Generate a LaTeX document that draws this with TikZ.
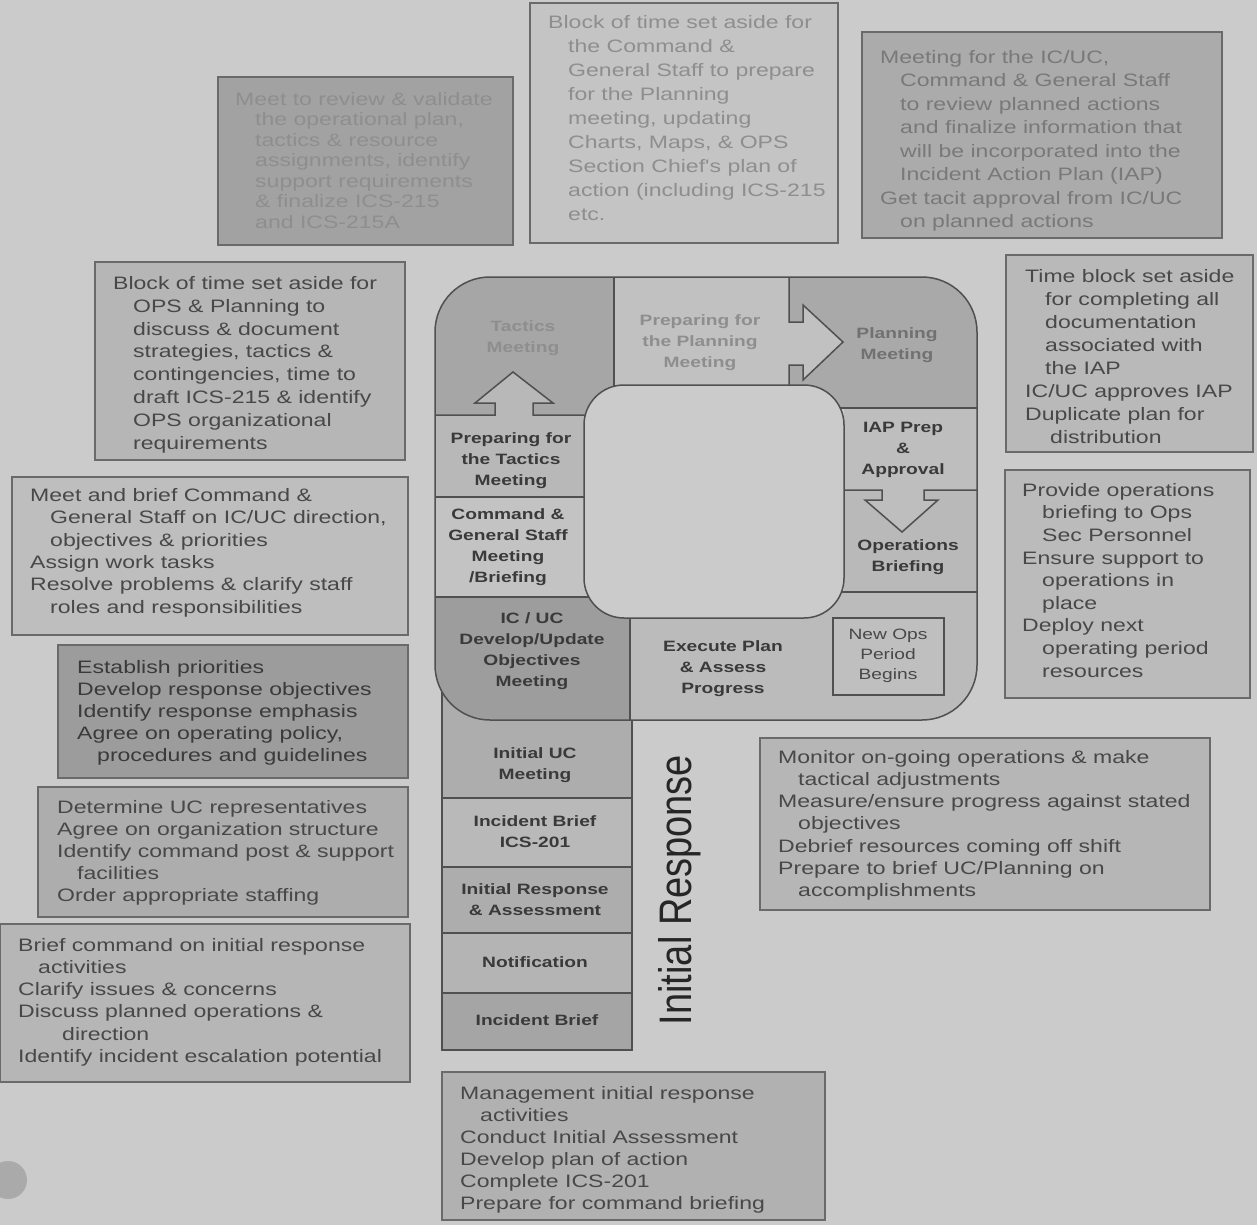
\documentclass[tikz,border=0pt]{standalone}
\usepackage{fontspec}
\setmainfont{Liberation Sans}
\newfontfamily\widesans[FakeStretch=1.28]{Liberation Sans}
\definecolor{bg}{HTML}{CBCBCB}
\definecolor{boxline}{HTML}{6A6A6A}
\definecolor{pline}{HTML}{505050}
\definecolor{txt}{HTML}{484848}
\definecolor{celltxt}{HTML}{3A3A3A}
\definecolor{fadedtxt}{HTML}{8E8E8E}
\definecolor{fA}{HTML}{A2A2A2}
\definecolor{fB}{HTML}{C4C4C4}
\definecolor{fC}{HTML}{ABABAB}
\definecolor{fD}{HTML}{B9B9B9}
\definecolor{fE}{HTML}{BBBBBB}
\definecolor{fF}{HTML}{B6B6B6}
\definecolor{fG}{HTML}{B6B6B6}
\definecolor{fH}{HTML}{BEBEBE}
\definecolor{fI}{HTML}{9C9C9C}
\definecolor{fJ}{HTML}{ADADAD}
\definecolor{fK}{HTML}{B6B6B6}
\definecolor{fL}{HTML}{B1B1B1}
\definecolor{cTac}{HTML}{A6A6A6}
\definecolor{cPrepPlan}{HTML}{C1C1C1}
\definecolor{cPlan}{HTML}{A9A9A9}
\definecolor{cIAP}{HTML}{BEBEBE}
\definecolor{cOps}{HTML}{B9B9B9}
\definecolor{cExec}{HTML}{BBBBBB}
\definecolor{cPrepTac}{HTML}{B8B8B8}
\definecolor{cCGS}{HTML}{C3C3C3}
\definecolor{cICUC}{HTML}{9D9D9D}
\definecolor{cInner}{HTML}{CBCBCB}
\definecolor{cNew}{HTML}{BFBFBF}
\definecolor{kIUC}{HTML}{ADADAD}
\definecolor{kICS}{HTML}{B9B9B9}
\definecolor{kIRA}{HTML}{ADADAD}
\definecolor{kNot}{HTML}{B4B4B4}
\definecolor{kIB}{HTML}{A5A5A5}
\begin{document}
\begin{tikzpicture}[x=1pt,y=-1pt,
  descbox/.style={draw=boxline, line width=1.3pt},
  desctext/.style={anchor=north west, inner sep=0pt, align=left, text=txt,
    font=\widesans\fontsize{18}{22.5}\selectfont},
  celltext/.style={align=center, inner sep=0pt, text=celltxt,
    font=\widesans\bfseries\fontsize{15}{21}\selectfont},
  cellline/.style={draw=pline, line width=1.5pt},
]
\def\ind{\hspace*{20pt}}
\useasboundingbox (0,0) rectangle (1257,1225);
\fill[bg] (0,0) rectangle (1257,1225);
\fill[fA!80!bg] (8,1180) circle (19pt);

% ---------- description boxes ----------
\draw[descbox, fill=fA] (218,77) rectangle (513,245);
\node[desctext, text=fadedtxt, font=\widesans\fontsize{18}{20.5}\selectfont] (dA) at (235,92)
 {Meet to review \& validate\\\ind the operational plan,\\\ind tactics \& resource\\\ind assignments, identify\\\ind support requirements\\\ind \& finalize ICS-215\\\ind and ICS-215A};

\draw[descbox, fill=fB] (530,3) rectangle (838,243);
\node[desctext, text=fadedtxt, font=\widesans\fontsize{18}{24}\selectfont] (dB) at (548,15)
 {Block of time set aside for\\\ind the Command \&\\\ind General Staff to prepare\\\ind for the Planning\\\ind meeting, updating\\\ind Charts, Maps, \& OPS\\\ind Section Chief's plan of\\\ind action (including ICS-215\\\ind etc.};

\draw[descbox, fill=fC] (862,32) rectangle (1222,238);
\node[desctext, text=fadedtxt!85!black, font=\widesans\fontsize{18}{23.5}\selectfont] (dC) at (880,50)
 {Meeting for the IC/UC,\\\ind Command \& General Staff\\\ind to review planned actions\\\ind and finalize information that\\\ind will be incorporated into the\\\ind Incident Action Plan (IAP)\\Get tacit approval from IC/UC\\\ind on planned actions};

\draw[descbox, fill=fD] (1006,255) rectangle (1253,452);
\node[desctext, font=\widesans\fontsize{18}{23}\selectfont] (dD) at (1025,269)
 {Time block set aside\\\ind for completing all\\\ind documentation\\\ind associated with\\\ind the IAP\\IC/UC approves IAP\\Duplicate plan for\\\hspace*{25pt}distribution};

\draw[descbox, fill=fE] (1005,470) rectangle (1250,698);
\node[desctext, font=\widesans\fontsize{18}{22.6}\selectfont] (dE) at (1022,483)
 {Provide operations\\\ind briefing to Ops\\\ind Sec Personnel\\Ensure support to\\\ind operations in\\\ind place\\Deploy next\\\ind operating period\\\ind resources};

\draw[descbox, fill=fF] (760,738) rectangle (1210,910);
\node[desctext, font=\widesans\fontsize{18}{22.2}\selectfont] (dF) at (778,750)
 {Monitor on-going operations \& make\\\ind tactical adjustments\\Measure/ensure progress against stated\\\ind objectives\\Debrief resources coming off shift\\Prepare to brief UC/Planning on\\\ind accomplishments};

\draw[descbox, fill=fG] (95,262) rectangle (405,460);
\node[desctext, font=\widesans\fontsize{18}{22.9}\selectfont] (dG) at (113,276)
 {Block of time set aside for\\\ind OPS \& Planning to\\\ind discuss \& document\\\ind strategies, tactics \&\\\ind contingencies, time to\\\ind draft ICS-215 \& identify\\\ind OPS organizational\\\ind requirements};

\draw[descbox, fill=fH] (12,477) rectangle (408,635);
\node[desctext, font=\widesans\fontsize{18}{22.4}\selectfont] (dH) at (30,488)
 {Meet and brief Command \&\\\ind General Staff on IC/UC direction,\\\ind objectives \& priorities\\Assign work tasks\\Resolve problems \& clarify staff\\\ind roles and responsibilities};

\draw[descbox, fill=fI] (58,645) rectangle (408,778);
\node[desctext, text=celltxt, font=\widesans\fontsize{18}{22}\selectfont] (dI) at (77,660)
 {Establish priorities\\Develop response objectives\\Identify response emphasis\\Agree on operating policy,\\\ind procedures and guidelines};

\draw[descbox, fill=fJ] (38,787) rectangle (408,917);
\node[desctext, font=\widesans\fontsize{18}{22}\selectfont] (dJ) at (57,800)
 {Determine UC representatives\\Agree on organization structure\\Identify command post \& support\\\ind facilities\\Order appropriate staffing};

\draw[descbox, fill=fK] (0,924) rectangle (410,1082);
\node[desctext, font=\widesans\fontsize{18}{22.2}\selectfont] (dK) at (18,938)
 {Brief command on initial response\\\ind activities\\Clarify issues \& concerns\\Discuss planned operations \&\\\hspace*{44pt}direction\\Identify incident escalation potential};

\draw[descbox, fill=fL] (442,1072) rectangle (825,1220);
\node[desctext, font=\widesans\fontsize{18}{22}\selectfont] (dL) at (460,1086)
 {Management initial response\\\ind activities\\Conduct Initial Assessment\\Develop plan of action\\Complete ICS-201\\Prepare for command briefing};

% ---------- initial response column ----------
\fill[kIUC] (442,690) rectangle (632,798);
\fill[kICS] (442,798) rectangle (632,867);
\fill[kIRA] (442,867) rectangle (632,933);
\fill[kNot] (442,933) rectangle (632,993);
\fill[kIB] (442,993) rectangle (632,1050);
\draw[cellline] (632,700) -- (632,1050) -- (442,1050) -- (442,690);
\draw[cellline] (442,798) -- (632,798);
\draw[cellline] (442,867) -- (632,867);
\draw[cellline] (442,933) -- (632,933);
\draw[cellline] (442,993) -- (632,993);

% ---------- Planning P ----------
\begin{scope}
\clip[rounded corners=55pt] (435,277) rectangle (977,720);
\fill[cTac] (435,277) rectangle (614,415);
\fill[cPrepPlan] (614,277) rectangle (789,392);
\fill[cPlan] (789,277) rectangle (977,408);
\fill[cIAP] (844,408) rectangle (977,490);
\fill[cOps] (844,490) rectangle (977,592);
\fill[cExec] (630,592) rectangle (977,720);
\fill[cPrepTac] (435,415) rectangle (600,497);
\fill[cCGS] (435,497) rectangle (600,597);
\fill[cICUC] (435,597) rectangle (630,720);
\end{scope}
% arrows (fills)
\fill[cPrepTac] (495,416) -- (495,403) -- (475,403) -- (513,372) -- (553,403) -- (533,403) -- (533,416) -- cycle;
\fill[cPrepPlan] (788,322) -- (803,322) -- (803,305) -- (843,342) -- (803,380) -- (803,365) -- (788,365) -- cycle;
\fill[cIAP] (882,489) -- (882,500) -- (865,500) -- (902,532) -- (938,500) -- (924,500) -- (924,489) -- cycle;
% dividers
\draw[cellline] (614,277) -- (614,390);
\draw[cellline] (789,277) -- (789,322) -- (803,322) -- (803,305) -- (843,342) -- (803,380) -- (803,365) -- (789,365) -- (789,390);
\draw[cellline] (435,415) -- (495,415) -- (495,403) -- (475,403) -- (513,372) -- (553,403) -- (533,403) -- (533,415) -- (600,415);
\draw[cellline] (830,490) -- (882,490) -- (882,500) -- (865,500) -- (902,532) -- (938,500) -- (924,500) -- (924,490) -- (977,490);
\draw[cellline] (830,408) -- (977,408);
\draw[cellline] (830,592) -- (977,592);
\draw[cellline] (435,497) -- (600,497);
\draw[cellline] (435,597) -- (600,597);
\draw[cellline] (630,600) -- (630,720);
\draw[cellline, rounded corners=55pt] (435,277) rectangle (977,720);
\draw[cellline, fill=cInner, rounded corners=40pt] (584,385) rectangle (844,618);
\draw[cellline, fill=cNew] (833,618) rectangle (944,695);

% cell texts
\node[celltext, text=fadedtxt] (tactics) at (523,338) {Tactics\\Meeting};
\node[celltext, text=fadedtxt] (prepplan) at (700,343) {Preparing for\\the Planning\\Meeting};
\node[celltext, text=fadedtxt!80!black] (planning) at (897,345) {Planning\\Meeting};
\node[celltext] (iap) at (903,450) {IAP Prep\\\&\\Approval};
\node[celltext] (ops) at (908,557) {Operations\\Briefing};
\node[celltext] (preptac) at (511,461) {Preparing for\\the Tactics\\Meeting};
\node[celltext] (cgs) at (508,547) {Command \&\\General Staff\\Meeting\\/Briefing};
\node[celltext] (icuc) at (532,651) {IC / UC\\Develop/Update\\Objectives\\Meeting};
\node[celltext] (exec) at (723,669) {Execute Plan\\\& Assess\\Progress};
\node[celltext, font=\widesans\fontsize{15}{20}\selectfont, text=txt] (newops) at (888,656) {New Ops\\Period\\Begins};
\node[celltext] (iuc) at (535,765) {Initial UC\\Meeting};
\node[celltext] (ib201) at (535,832) {Incident Brief\\ICS-201};
\node[celltext] (ira) at (535,900) {Initial Response\\\& Assessment};
\node[celltext] (notif) at (535,962) {Notification};
\node[celltext] (ib) at (537,1020) {Incident Brief};

\begin{scope}[shift={(680,890)}, xscale=1.2]
\node[rotate=90, transform shape, inner sep=0pt, text=black!85,
  font=\fontsize{38}{38}\selectfont] (ir) at (0,0) {Initial Response};
\end{scope}
\end{tikzpicture}
\end{document}
